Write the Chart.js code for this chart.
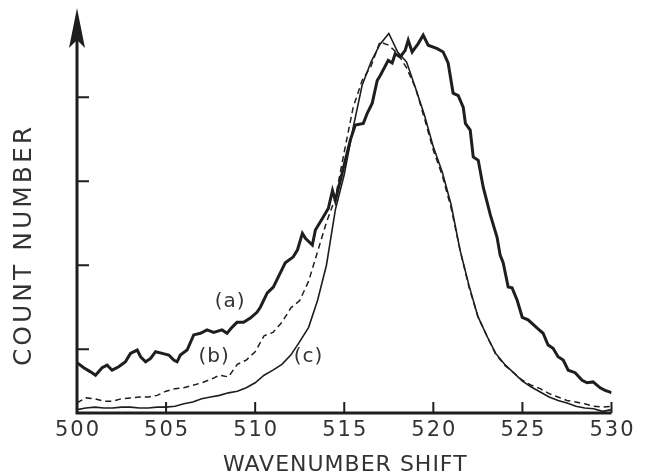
<!DOCTYPE html>
<html>
<head>
<meta charset="utf-8">
<script src="https://cdn.jsdelivr.net/npm/chart.js@4.4.1/dist/chart.umd.min.js"></script>
<style>
  html, body { margin: 0; padding: 0; background: #fff; }
  #wrap { width: 650px; height: 476px; }
</style>
</head>
<body>
<div id="wrap"><canvas id="graph"></canvas></div>
<script>
// curve (a): noisy, read at uneven steps
const waveA = [500.0, 500.38, 500.76, 501.04, 501.41, 501.69, 501.97, 502.34, 502.72, 503.0,
    503.38, 503.57, 503.85, 504.13, 504.41, 504.78, 505.15, 505.43, 505.62, 505.8,
    506.18, 506.55, 506.93, 507.3, 507.67, 508.14, 508.42, 508.7, 508.98, 509.35,
    509.73, 510.1, 510.29, 510.68, 511.02, 511.41, 511.69, 512.14, 512.37, 512.65,
    512.82, 513.21, 513.38, 513.78, 514.11, 514.34, 514.5, 514.78, 515.34, 515.62,
    516.07, 516.29, 516.57, 516.85, 517.02, 517.47, 517.69, 517.86, 518.14, 518.42,
    518.59, 518.81, 519.15, 519.43, 519.71, 520.22, 520.55, 520.83, 521.11, 521.4,
    521.68, 521.8, 522.07, 522.24, 522.52, 522.8, 523.2, 523.58, 523.75, 523.92,
    524.2, 524.42, 524.71, 524.99, 525.32, 525.83, 526.16, 526.44, 526.72, 527.0,
    527.29, 527.57, 527.96, 528.35, 528.63, 528.97, 529.36, 529.64, 529.92, 530];
const countA = [84, 78, 73, 69, 78, 81, 75, 79, 85, 95,
    99, 91, 85, 89, 97, 95, 93, 87, 85, 93,
    99, 117, 119, 123, 120, 123, 119, 126, 132, 132,
    137, 144, 150, 167, 174, 191, 203, 210, 218, 238,
    232, 224, 242, 256, 268, 289, 277, 301, 349, 367,
    369, 381, 393, 420, 426, 444, 441, 452, 448, 456,
    468, 454, 464, 474, 462, 458, 454, 441, 405, 402,
    388, 369, 361, 329, 325, 293, 260, 233, 212, 203,
    174, 173, 158, 138, 135, 125, 119, 105, 101, 91,
    87, 75, 72, 63, 60, 61, 54, 51, 49, 48];

// curves (b) and (c), every 0.5
const waveBC = [500, 500.5, 501, 501.5, 502, 502.5, 503, 503.5, 504, 504.5,
    505, 505.5, 506, 506.5, 507, 507.5, 508, 508.5, 509, 509.5,
    510, 510.5, 511, 511.5, 512, 512.5, 513, 513.5, 514, 514.5,
    515, 515.5, 516, 516.5, 517, 517.5, 518, 518.5, 519, 519.5,
    520, 520.5, 521, 521.5, 522, 522.5, 523, 523.5, 524, 524.5,
    525, 525.5, 526, 526.5, 527, 527.5, 528, 528.5, 529, 529.5, 530];
const countB = [36, 42, 41, 38, 38, 41, 42, 43, 43, 45,
    50, 53, 54, 57, 60, 64, 69, 67, 82, 87,
    97, 116, 120, 132, 149, 158, 181, 216, 251, 280,
    335, 388, 420, 437, 466, 462, 452, 435, 411, 375,
    337, 307, 268, 218, 174, 139, 116, 94, 81, 72,
    63, 57, 53, 47, 43, 39, 37, 35, 32, 31, 32];
const countC = [28, 30, 31, 30, 30, 31, 31, 30, 30, 31,
    31, 32, 35, 37, 41, 43, 45, 48, 50, 54,
    60, 69, 75, 82, 93, 109, 126, 158, 200, 266,
    308, 364, 414, 442, 463, 476, 454, 442, 411, 379,
    341, 311, 272, 218, 176, 139, 116, 95, 82, 72,
    62, 55, 49, 43, 39, 36, 32, 30, 29, 26, 28];

const xTicks = [500, 505, 510, 515, 520, 525, 530];
const yTicks = [100, 200, 300, 400];
const curveNames = ['(a)', '(b)', '(c)'];
const nameSpots = [[508.6, 156], [507.7, 91], [513.0, 91]];

const ink = '#1e1e1e';
const textInk = '#333';

const pts = (xs, ys) => xs.map((w, i) => ({ x: w, y: ys[i] }));

const figurePlugin = {
    id: 'figure',
    afterDatasetsDraw(chart) {
        const { ctx, chartArea: a, scales: { x, y } } = chart;
        ctx.save();
        ctx.strokeStyle = ink;
        ctx.fillStyle = ink;

        // axes
        ctx.lineWidth = 3;
        ctx.beginPath();
        ctx.moveTo(a.left, a.top + 30);
        ctx.lineTo(a.left, a.bottom);
        ctx.lineTo(a.right, a.bottom);
        ctx.stroke();

        // arrow head
        ctx.beginPath();
        ctx.moveTo(a.left, a.top - 2);
        ctx.lineTo(a.left + 8, a.top + 38);
        ctx.lineTo(a.left, a.top + 30);
        ctx.lineTo(a.left - 8, a.top + 38);
        ctx.closePath();
        ctx.fill();

        // inner ticks
        ctx.lineWidth = 2;
        ctx.beginPath();
        yTicks.forEach(v => {
            const py = y.getPixelForValue(v);
            ctx.moveTo(a.left, py);
            ctx.lineTo(a.left + 12, py);
        });
        xTicks.forEach(v => {
            const px = x.getPixelForValue(v);
            ctx.moveTo(px, a.bottom);
            ctx.lineTo(px, a.bottom - 11);
        });
        ctx.stroke();

        // tick labels
        ctx.fillStyle = textInk;
        ctx.textAlign = 'center';
        ctx.textBaseline = 'middle';
        ctx.font = '21px "DejaVu Sans"';
        ctx.letterSpacing = '2px';
        xTicks.forEach(v => {
            ctx.fillText(String(v), x.getPixelForValue(v) + 1, a.bottom + 18);
        });

        // axis titles
        ctx.font = '22px "DejaVu Sans"';
        ctx.letterSpacing = '1px';
        ctx.fillText('WAVENUMBER SHIFT', (a.left + a.right) / 2 + 1, a.bottom + 52);

        ctx.save();
        ctx.translate(24, 245);
        ctx.rotate(-Math.PI / 2);
        ctx.font = '25px "DejaVu Sans"';
        ctx.letterSpacing = '3px';
        ctx.fillText('COUNT NUMBER', 0, 0);
        ctx.restore();

        // curve names
        ctx.font = '20px "DejaVu Sans"';
        ctx.letterSpacing = '1px';
        curveNames.forEach((t, i) => {
            ctx.fillText(t, x.getPixelForValue(nameSpots[i][0]), y.getPixelForValue(nameSpots[i][1]));
        });
        ctx.restore();
    }
};

const config = {
    type: 'line',
    data: {
        datasets: [
            {
                label: '(a)',
                data: pts(waveA, countA),
                borderColor: ink,
                borderWidth: 3,
                pointRadius: 0,
                order: 0
            },
            {
                label: '(b)',
                data: pts(waveBC, countB),
                borderColor: ink,
                borderWidth: 1.5,
                borderDash: [6, 4],
                pointRadius: 0,
                order: 1
            },
            {
                label: '(c)',
                data: pts(waveBC, countC),
                borderColor: ink,
                borderWidth: 1.6,
                pointRadius: 0,
                order: 2
            }
        ]
    },
    options: {
        responsive: true,
        maintainAspectRatio: false,
        animation: false,
        events: [],
        layout: {
            padding: { left: 77, right: 38.5, top: 10, bottom: 63 }
        },
        scales: {
            x: {
                type: 'linear',
                display: false,
                min: 500,
                max: 530
            },
            y: {
                type: 'linear',
                display: false,
                min: 24,
                max: 504
            }
        },
        plugins: {
            legend: { display: false },
            tooltip: { enabled: false }
        }
    },
    plugins: [figurePlugin]
};

const myChart = new Chart(document.getElementById('graph'), config);
</script>
</body>
</html>
